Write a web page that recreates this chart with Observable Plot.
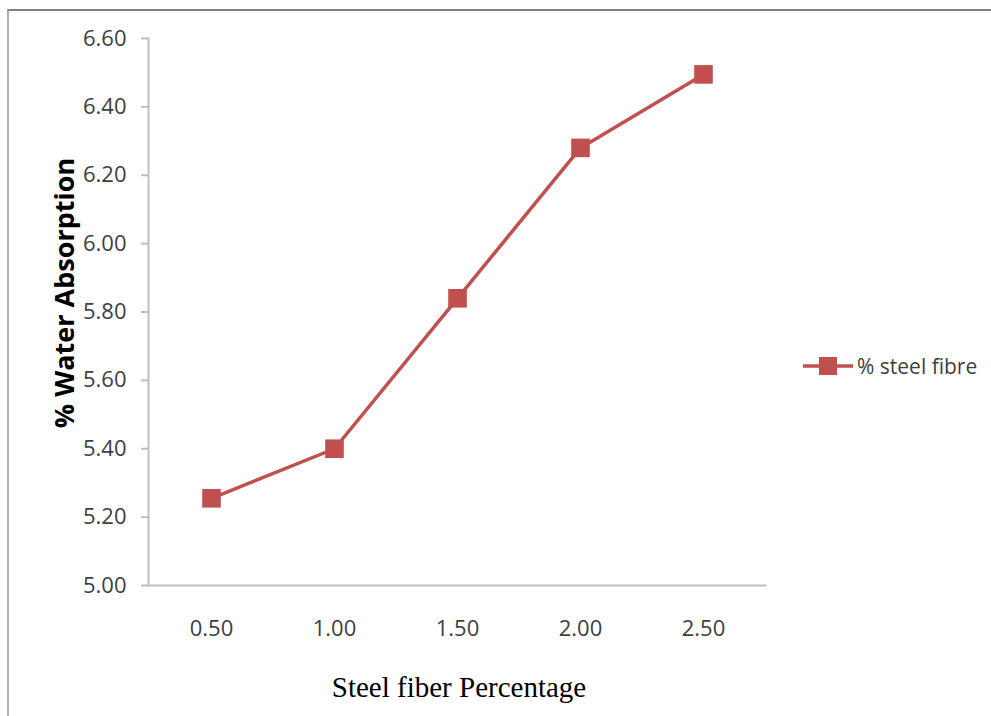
<!DOCTYPE html>
<html>
<head>
<meta charset="utf-8">
<script src="https://cdn.jsdelivr.net/npm/d3@7"></script>
<script src="https://cdn.jsdelivr.net/npm/@observablehq/plot@0.6"></script>
<style>
  html, body { margin: 0; padding: 0; background: #fff; }
  #wrap { position: relative; width: 991px; height: 716px; overflow: hidden; background: #fff; }
  #border { position: absolute; left: 7px; top: 9px; right: -10px; bottom: -10px;
            border-top: 2px solid #7f7f7f; border-left: 2px solid #b0b0b0; pointer-events: none; }
  #chart { position: absolute; left: 0; top: 0; }
  #legend { position: absolute; left: 803px; top: 352px; display: flex; align-items: center;
            font-family: "Open Sans", sans-serif; font-size: 21px; color: #404040; }
  #legend svg { display: block; }
</style>
</head>
<body>
<div id="wrap">
  <div id="chart"></div>
  <div id="border"></div>
  <div id="legend"></div>
</div>
<script>
const categories = ["0.50", "1.00", "1.50", "2.00", "2.50"];
const values = [5.255, 5.40, 5.84, 6.28, 6.495];
const yTicks = [5.0, 5.2, 5.4, 5.6, 5.8, 6.0, 6.2, 6.4, 6.6];
const seriesName = "% steel fibre";
const xTitle = "Steel fiber Percentage";
const yTitle = "% Water Absorption";
const color = "#c0504d";

const data = categories.map((c, i) => ({x: c, y: values[i]}));

const chart = Plot.plot({
  width: 991,
  height: 716,
  marginLeft: 148,
  marginRight: 226,
  marginTop: 38,
  marginBottom: 131,
  style: {fontFamily: "'Open Sans', sans-serif", background: "transparent", overflow: "visible"},
  x: {type: "point", domain: categories, padding: 0.5},
  y: {domain: [5.0, 6.6]},
  marks: [
    Plot.frame({anchor: "left", stroke: "#bfbfbf", strokeWidth: 2, strokeOpacity: 1}),
    Plot.frame({anchor: "bottom", stroke: "#bfbfbf", strokeWidth: 2, strokeOpacity: 1}),
    Plot.axisY({ticks: yTicks, tickFormat: d3.format(".2f"), tickSize: 7, tickPadding: 15,
                stroke: "#bfbfbf", strokeWidth: 2, strokeOpacity: 1,
                fontSize: 22, fill: "#404040", label: null}),
    Plot.axisX({tickSize: 0, tickPadding: 35, fontSize: 22, fill: "#404040", label: null}),
    Plot.text([yTitle], {frameAnchor: "left", textAnchor: "middle", dx: -83, dy: -19, rotate: -90, text: d => d,
                         fontSize: 27, fontWeight: "bold", fill: "#000"}),
    Plot.text([xTitle], {frameAnchor: "bottom", dx: 2, dy: 111, text: d => d,
                         fontSize: 29, fontFamily: "'Liberation Serif', 'Times New Roman', serif", fill: "#000"}),
    Plot.line(data, {x: "x", y: "y", stroke: color, strokeWidth: 3.5}),
    Plot.dot(data, {x: "x", y: "y", symbol: "square", r: 10.5, fill: color, stroke: "none"})
  ]
});
document.getElementById("chart").appendChild(chart);

// legend
const leg = document.getElementById("legend");
const ls = d3.create("svg").attr("width", 52).attr("height", 28);
ls.append("line").attr("x1", 0).attr("x2", 50).attr("y1", 14).attr("y2", 14)
  .attr("stroke", color).attr("stroke-width", 3.5);
ls.append("rect").attr("x", 16).attr("y", 5).attr("width", 18).attr("height", 18).attr("fill", color);
leg.appendChild(ls.node());
const lt = document.createElement("span");
lt.textContent = seriesName;
lt.style.marginLeft = "2px";
leg.appendChild(lt);
</script>
</body>
</html>
